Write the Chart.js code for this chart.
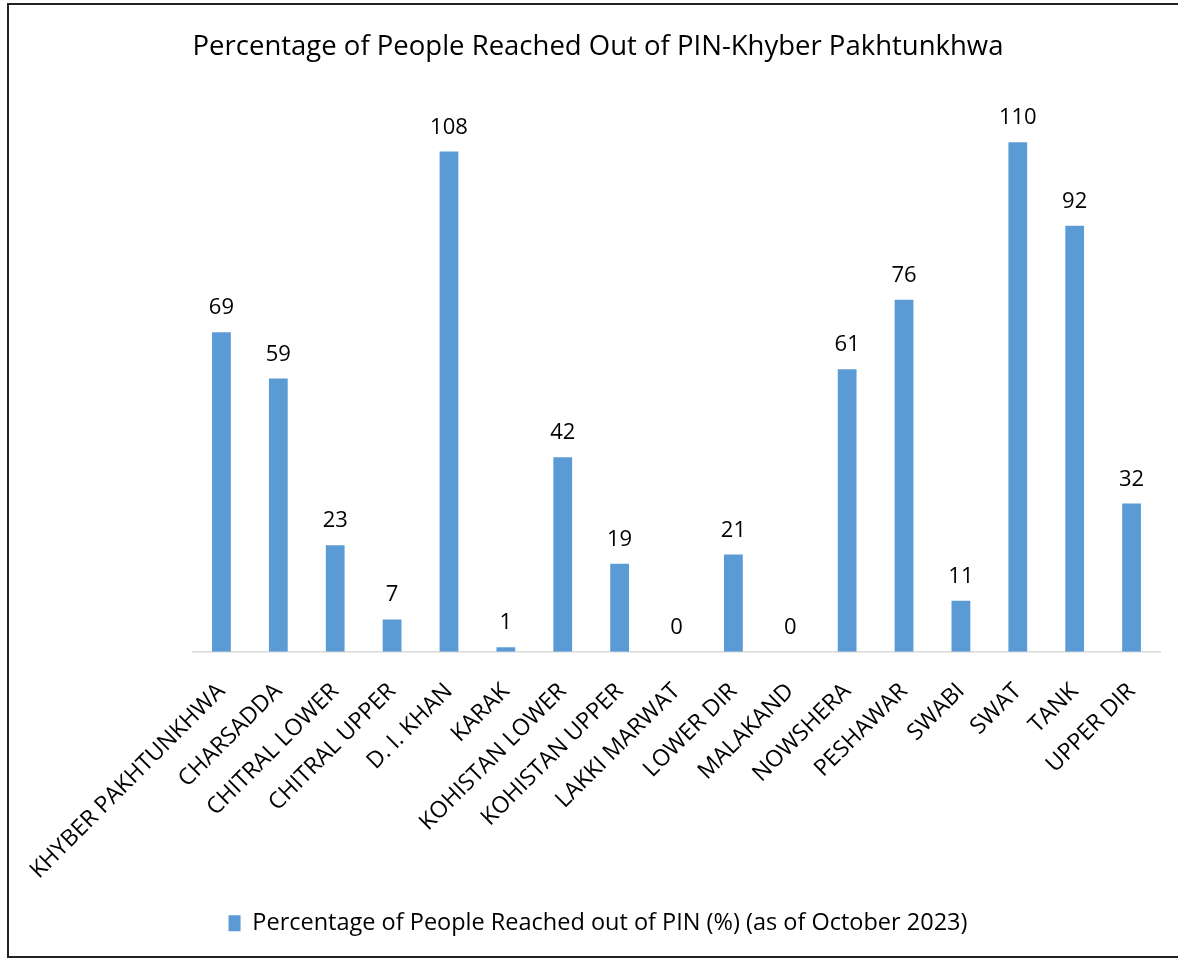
<html>
<head>
    <meta charset="utf-8" />
    <script src="https://cdn.jsdelivr.net/npm/chart.js@4.4.0/dist/chart.umd.min.js"></script>
    <title>Percentage of People Reached Out of PIN</title>
    <style>
        body { margin: 0; background: #fff; }
        #wrap { position: absolute; left: 7px; top: 3px; width: 1180px; height: 955px;
                border: 2px solid #222; box-sizing: border-box; }
        #c { position: absolute; left: -9px; top: -5px; }
    </style>
</head>
<body>
    <div id="wrap"><canvas id="c" width="1178" height="960"></canvas></div>
    <script>
        const districts = ["KHYBER PAKHTUNKHWA", "CHARSADDA", "CHITRAL LOWER", "CHITRAL UPPER",
            "D. I. KHAN", "KARAK", "KOHISTAN LOWER", "KOHISTAN UPPER", "LAKKI MARWAT",
            "LOWER DIR", "MALAKAND", "NOWSHERA", "PESHAWAR", "SWABI", "SWAT", "TANK", "UPPER DIR"];
        const reached = [69, 59, 23, 7, 108, 1, 42, 19, 0, 21, 0, 61, 76, 11, 110, 92, 32];

        const fontFam = "'Open Sans', 'Noto Sans', sans-serif";

        // value labels above each bar
        const valueLabels = {
            id: "valueLabels",
            afterDatasetsDraw(chart) {
                const ctx = chart.ctx;
                const meta = chart.getDatasetMeta(0);
                ctx.save();
                ctx.font = "22px " + fontFam;
                ctx.fillStyle = "#000";
                ctx.textAlign = "center";
                ctx.textBaseline = "alphabetic";
                meta.data.forEach(function (bar, i) {
                    ctx.fillText(reached[i], bar.x, bar.y - 18);
                });
                ctx.restore();
            }
        };

        new Chart(document.getElementById("c"), {
            type: "bar",
            data: {
                labels: districts,
                datasets: [{
                    label: "Percentage of People Reached out of PIN (%) (as of October 2023)",
                    data: reached,
                    backgroundColor: "#5B9BD5",
                    barPercentage: 0.6,
                    categoryPercentage: 0.55
                }]
            },
            options: {
                responsive: false,
                animation: false,
                layout: { padding: { left: 36, right: 18, top: 10, bottom: 15 } },
                plugins: {
                    title: {
                        display: true,
                        text: "Percentage of People Reached Out of PIN-Khyber Pakhtunkhwa",
                        color: "#000",
                        font: { family: fontFam, size: 27.5, weight: "normal" },
                        padding: { top: 21, bottom: 32 }
                    },
                    legend: {
                        position: "bottom",
                        labels: {
                            color: "#000",
                            font: { family: fontFam, size: 23.5 },
                            boxWidth: 12,
                            boxHeight: 16,
                            padding: 9
                        }
                    },
                    tooltip: { enabled: false }
                },
                scales: {
                    x: {
                        grid: { display: false },
                        border: { color: "#d9d9d9", width: 1.5 },
                        ticks: {
                            color: "#000",
                            font: { family: fontFam, size: 23 },
                            maxRotation: 45,
                            minRotation: 45,
                            autoSkip: false,
                            padding: 18
                        },
                        afterFit(scale) {
                            // keep the plot starting where the reference axis starts
                            scale.paddingLeft = 193;
                        }
                    },
                    y: {
                        display: false,
                        min: 0,
                        max: 120
                    }
                }
            },
            plugins: [valueLabels]
        });
    </script>
</body>
</html>
